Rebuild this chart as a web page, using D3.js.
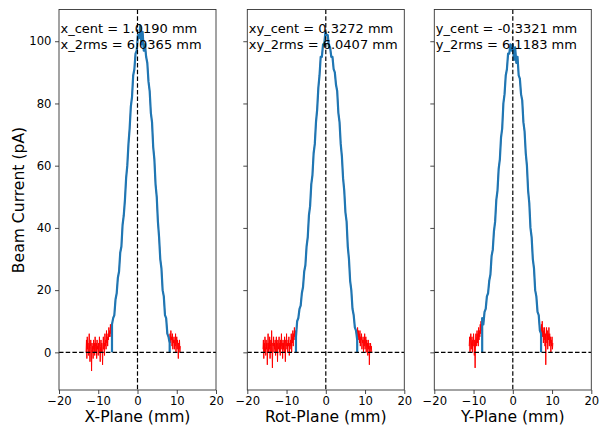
<!DOCTYPE html>
<html>
<head>
<meta charset="utf-8">
<script src="https://cdn.jsdelivr.net/npm/d3@7"></script>
<style>
  html, body { margin: 0; padding: 0; background: #fff; }
  svg { display: block; }
  text { font-family: "DejaVu Sans", sans-serif; fill: #000; }
</style>
</head>
<body>
<svg id="chart" width="600" height="426"></svg>
<script>
// ---------------- DATA ----------------
const planeLabels = ["X-Plane (mm)", "Rot-Plane (mm)", "Y-Plane (mm)"];
const centLabels = ["x_cent = 1.0190 mm", "xy_cent = 0.3272 mm", "y_cent = -0.3321 mm"];
const rmsLabels = ["x_2rms = 6.0365 mm", "xy_2rms = 6.0407 mm", "y_2rms = 6.1183 mm"];
const xTicks = [-20, -10, 0, 10, 20];
const yTicks = [0, 20, 40, 60, 80, 100];
const yLabel = "Beam Current (pA)";

// scan positions (mm): first sample of each section, and sample spacing
const tailLeftStart = [-13.1, -16.0, -11.1];
const coreStart = [-6.5, -7.6, -7.8];
const tailRightStart = [8.3, 8.1, 7.3];
const fineStep = 0.1;
const coreStep = 0.3;

// beam current readings (pA) : left tail, beam core (kept, blue), right tail
const xTailLeft = [
  0, 4, -2, 5, 1, 3, -1, 2, 6, 0, -3, 2, 4, 1, -6, 3, 0, 2, -2, 4,
  1, 3, -1, 5, 2, 0, 3, -2, 4, 1, 2, -1, 3, 0, 5, 1, -3, 2, 4, 0,
  3, 1, -4, 2, 5, 1, 3, -1, 6, 2, 4, 1, 7, 3, 5, 2, 6, 4, 8, 5,
  7, 5, 9, 6, 8
];
const xCore = [
  9, 11, 12, 17, 19, 24, 26, 32, 34, 41, 44, 49, 56, 60, 67, 72, 79, 82, 89, 91,
  96, 97, 102, 101, 105, 99, 103, 97, 99, 95, 93, 87, 84, 77, 74, 66, 62, 54, 50, 42,
  37, 30, 27, 20, 18, 12, 11, 6, 5, 3
];
const xTailRight = [
  6, 3, 7, 4, 5, 2, 6, 1, 4, 3, 5, 1, 4, 2, 6, 0, 3, 5, 1, 4,
  2, -2, 3, 1, 4, 0, 2
];

const rotTailLeft = [
  1, 4, -2, 3, 0, 5, 2, -1, 4, 1, 3, -4, 2, 6, 0, 3, 1, 5, -2, 2,
  4, 0, 7, 1, -5, 3, 2, 5, 0, 3, 1, 4, -1, 2, 5, 0, 3, -3, 4, 1,
  2, 5, 0, 3, -1, 4, 2, 6, 1, 3, -2, 4, 1, 3, 0, 5, 2, -3, 4, 2,
  6, 1, 3, 0, 4, 2, 5, -1, 3, 1, 4, 2, 6, 0, 5, 3, 7, 2, 6, 4,
  8, 5, 7, 6
];
const rotCore = [
  5, 10, 11, 14, 15, 19, 21, 26, 28, 34, 37, 44, 47, 54, 57, 64, 67, 74, 78, 85,
  89, 95, 95, 99, 99, 103, 102, 102, 98, 98, 95, 95, 91, 90, 86, 84, 77, 74, 67, 63,
  56, 52, 45, 42, 34, 30, 23, 20, 14, 12, 8, 7, 4
];
const rotTailRight = [
  8, 5, 7, 4, 6, 3, 7, 2, 5, 4, 6, 1, 4, 3, 5, 0, 4, 2, 6, 1,
  3, 5, 0, 4, 2, 3, -1, 4, 1, 3, -4, 2, 0, 3, 1, 2, 0
];

const yTailLeft = [
  2, 5, 0, 4, 6, 1, 3, 5, 0, 4, 2, 6, 3, -1, 4, -5, 3, 6, 2, 5,
  7, 3, 6, 2, 8, 4, 7, 5, 9, 6, 10, 7, 9
];
const yCore = [
  11, 9, 13, 14, 18, 19, 23, 25, 31, 33, 39, 42, 49, 52, 59, 62, 69, 72, 80, 83,
  89, 91, 96, 96, 99, 97, 99, 94, 98, 93, 95, 89, 88, 83, 81, 74, 71, 64, 60, 52,
  48, 40, 37, 30, 27, 20, 18, 13, 12, 7, 6
];
const yTailRight = [
  9, 6, 10, 5, 8, 3, 7, 4, 8, 2, 6, -4, 5, 8, 3, 7, 1, 6, 4, 8,
  2, 6, 3, 5, 0, 4, 2, 5, 1, 3
];

const tailsLeft = [xTailLeft, rotTailLeft, yTailLeft];
const cores = [xCore, rotCore, yCore];
const tailsRight = [xTailRight, rotTailRight, yTailRight];

// ---------------- LAYOUT ----------------
const svg = d3.select("#chart");
const panelLeft = [59, 247.3, 434.3];
const panelW = 157;
const plotTop = 9.5, plotBottom = 390;

const y = d3.scaleLinear().domain([-12.1, 110.2]).range([plotBottom, plotTop]);

function toPoints(vals, start, step) {
  return vals.map((v, i) => ({ x: +(start + i * step).toFixed(2), v }));
}

for (let p = 0; p < 3; p++) {
  const x = d3.scaleLinear().domain([-20, 20]).range([panelLeft[p], panelLeft[p] + panelW]);
  const left = toPoints(tailsLeft[p], tailLeftStart[p], fineStep);
  const core = toPoints(cores[p], coreStart[p], coreStep);
  const right = toPoints(tailsRight[p], tailRightStart[p], fineStep);
  const full = left.concat(core, right);
  const clean = [{ x: core[0].x, v: 0 }].concat(core, [{ x: core[core.length - 1].x, v: 0 }]);

  const g = svg.append("g");
  const clipId = "clip" + p;
  svg.append("clipPath").attr("id", clipId).append("rect")
    .attr("x", panelLeft[p]).attr("y", plotTop).attr("width", panelW).attr("height", plotBottom - plotTop);

  const line = d3.line().x(d => x(d.x)).y(d => y(d.v));
  const plot = g.append("g").attr("clip-path", `url(#${clipId})`);

  plot.append("path").datum(full).attr("d", line)
    .attr("fill", "none").attr("stroke", "red").attr("stroke-width", 1);
  plot.append("path").datum(clean).attr("d", line)
    .attr("fill", "none").attr("stroke", "#1f77b4").attr("stroke-width", 2.2).attr("stroke-linejoin", "round");

  // dashed reference lines
  plot.append("line").attr("x1", x(0)).attr("x2", x(0)).attr("y1", plotTop).attr("y2", plotBottom)
    .attr("stroke", "#000").attr("stroke-width", 1.2).attr("stroke-dasharray", "4.5,2.2");
  plot.append("line").attr("x1", panelLeft[p]).attr("x2", panelLeft[p] + panelW).attr("y1", y(0)).attr("y2", y(0))
    .attr("stroke", "#000").attr("stroke-width", 1.2).attr("stroke-dasharray", "4.5,2.2");

  // axes
  const xAxis = d3.axisBottom(x).tickValues(xTicks).tickSize(4).tickPadding(2.5)
    .tickFormat(d => d < 0 ? "\u2212" + Math.abs(d) : d);
  const gx = g.append("g").attr("transform", `translate(0,${plotBottom})`).call(xAxis);
  const yAxis = d3.axisLeft(y).tickValues(yTicks).tickSize(4).tickPadding(3.5)
    .tickFormat(p === 0 ? (d => d) : (() => ""));
  const gy = g.append("g").attr("transform", `translate(${panelLeft[p]},0)`).call(yAxis);
  [gx, gy].forEach(a => {
    a.select(".domain").remove();
    a.selectAll(".tick line").attr("stroke", "#333").attr("stroke-width", 0.9);
    a.selectAll(".tick text").attr("font-size", 11.6).attr("font-family", "DejaVu Sans").attr("fill", "#000");
  });

  // frame
  g.append("rect").attr("x", panelLeft[p]).attr("y", plotTop).attr("width", panelW).attr("height", plotBottom - plotTop)
    .attr("fill", "none").attr("stroke", "#333").attr("stroke-width", 0.9);

  // annotations
  g.append("text").attr("x", panelLeft[p] + 1.5).attr("y", 33).attr("font-size", 13).text(centLabels[p]);
  g.append("text").attr("x", panelLeft[p] + 1.5).attr("y", 48.5).attr("font-size", 13).text(rmsLabels[p]);

  // x label
  g.append("text").attr("x", panelLeft[p] + panelW / 2).attr("y", 421.5).attr("text-anchor", "middle")
    .attr("font-size", 15.6).text(planeLabels[p]);
}

svg.append("text").attr("transform", "translate(24,200) rotate(-90)").attr("text-anchor", "middle")
  .attr("font-size", 15.6).text(yLabel);
</script>
</body>
</html>
